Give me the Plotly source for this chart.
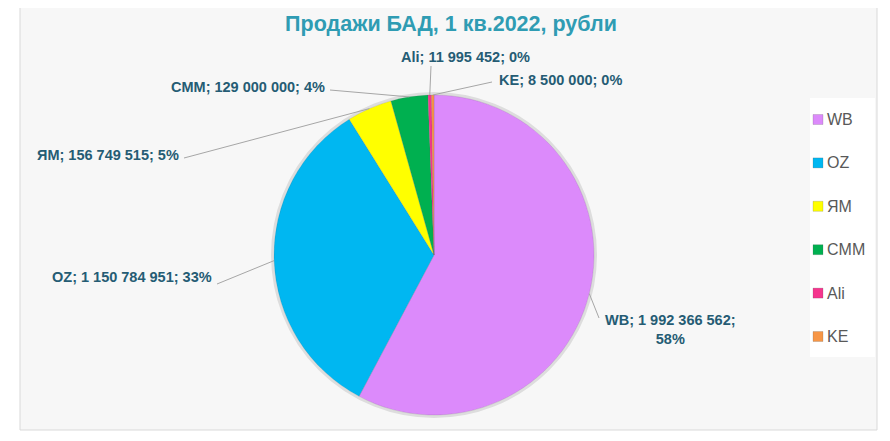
import math
import plotly.graph_objects as go

# ---- data ----
labels = ["WB", "OZ", "ЯМ", "CMM", "Ali", "KE"]
values = [1992366562, 1150784951, 156749515, 129000000, 11995452, 8500000]
colors = ["#DC8AFB", "#00B7F1", "#FFFF00", "#00B050", "#F5358E", "#F79646"]
title_text = "Продажи БАД, 1 кв.2022, рубли"

OFF = 8                      # page body margin
W, H = 890 - OFF, 441 - OFF  # figure size
CX, CY, R = 434, 255, 160    # pie centre / radius in screen pixels

def px(x):
    return (x - OFF) / W

def py(y):
    return 1 - (y - OFF) / H

fig = go.Figure()

fig.add_trace(go.Pie(
    labels=labels, values=values, sort=False, direction="clockwise", rotation=0,
    marker=dict(colors=colors, line=dict(color="rgba(90,90,90,0.35)", width=0.5)),
    textinfo="none", hoverinfo="label+value+percent", showlegend=False,
    domain=dict(x=[px(CX - R), px(CX + R)], y=[py(CY + R), py(CY - R)]),
))

# label placement (layout only): text anchor, x-anchor, leader attach point
label_layout = {
    "WB":  dict(tx=603, ty=329, xa="left",   ax=599, ay=318),
    "OZ":  dict(tx=214, ty=277, xa="right",  ax=217, ay=284),
    "ЯМ":  dict(tx=181, ty=155, xa="right",  ax=184, ay=158),
    "CMM": dict(tx=327, ty=87,  xa="right",  ax=330, ay=90),
    "Ali": dict(tx=465, ty=57,  xa="center", ax=431, ay=66),
    "KE":  dict(tx=497, ty=80,  xa="left",   ax=492, ay=82),
}

total = sum(values)
shapes = []
annotations = []

# chart area background
shapes.append(dict(type="rect", xref="paper", yref="paper",
                   x0=px(20), x1=px(877), y0=py(430), y1=py(5),
                   fillcolor="#F7F7F7", line=dict(color="#D9D9D9", width=1), layer="below"))
# pie soft shadow
shapes.append(dict(type="circle", xref="paper", yref="paper",
                   x0=px(CX - R - 1.5), x1=px(CX + R + 1.5), y0=py(CY + R + 1.5), y1=py(CY - R - 1.5),
                   fillcolor="rgba(0,0,0,0)", line=dict(color="rgba(0,0,0,0.10)", width=3), layer="below"))
# legend box
shapes.append(dict(type="rect", xref="paper", yref="paper",
                   x0=px(810), x1=px(875), y0=py(357), y1=py(98),
                   fillcolor="white", line=dict(width=0), layer="below"))

cum = 0.0
for name, v in zip(labels, values):
    frac = v / total
    mid = 2 * math.pi * (cum + frac / 2)
    cum += frac
    ex = CX + R * math.sin(mid)
    ey = CY - R * math.cos(mid)
    L = label_layout[name]
    shapes.append(dict(type="line", xref="paper", yref="paper",
                       x0=px(ex), y0=py(ey), x1=px(L["ax"]), y1=py(L["ay"]),
                       line=dict(color="#A6A6A6", width=1)))
    num = f"{v:,}".replace(",", " ")
    pct = round(frac * 100)
    if name == "WB":
        txt = f"{name}; {num};<br>{pct}%"
    else:
        txt = f"{name}; {num}; {pct}%"
    annotations.append(dict(xref="paper", yref="paper", x=px(L["tx"]), y=py(L["ty"]),
                            xanchor=L["xa"], yanchor="middle", text=txt, showarrow=False,
                            align="center",
                            font=dict(family="Liberation Sans, Arial", size=14.5,
                                      color="#255C74", weight="bold")))

# custom legend
for i, (name, c) in enumerate(zip(labels, colors)):
    yc = 119.5 + i * 43.4
    shapes.append(dict(type="rect", xref="paper", yref="paper",
                       x0=px(813), x1=px(823), y0=py(yc + 5), y1=py(yc - 5),
                       fillcolor=c, line=dict(color="rgba(80,80,80,0.4)", width=0.5)))
    annotations.append(dict(xref="paper", yref="paper", x=px(825), y=py(yc),
                            xanchor="left", yanchor="middle", text=name, showarrow=False,
                            font=dict(family="Liberation Sans, Arial", size=16, color="#595959")))

fig.update_layout(
    width=W, height=H,
    margin=dict(l=0, r=0, t=0, b=0),
    paper_bgcolor="white",
    title=dict(text=f"<b>{title_text}</b>", x=px(451), xanchor="center", y=py(23), yanchor="middle",
               font=dict(family="Liberation Sans, Arial", size=21.5, color="#2F9CB3")),
    shapes=shapes,
    annotations=annotations,
    showlegend=False,
)

fig.write_html("out.html")
